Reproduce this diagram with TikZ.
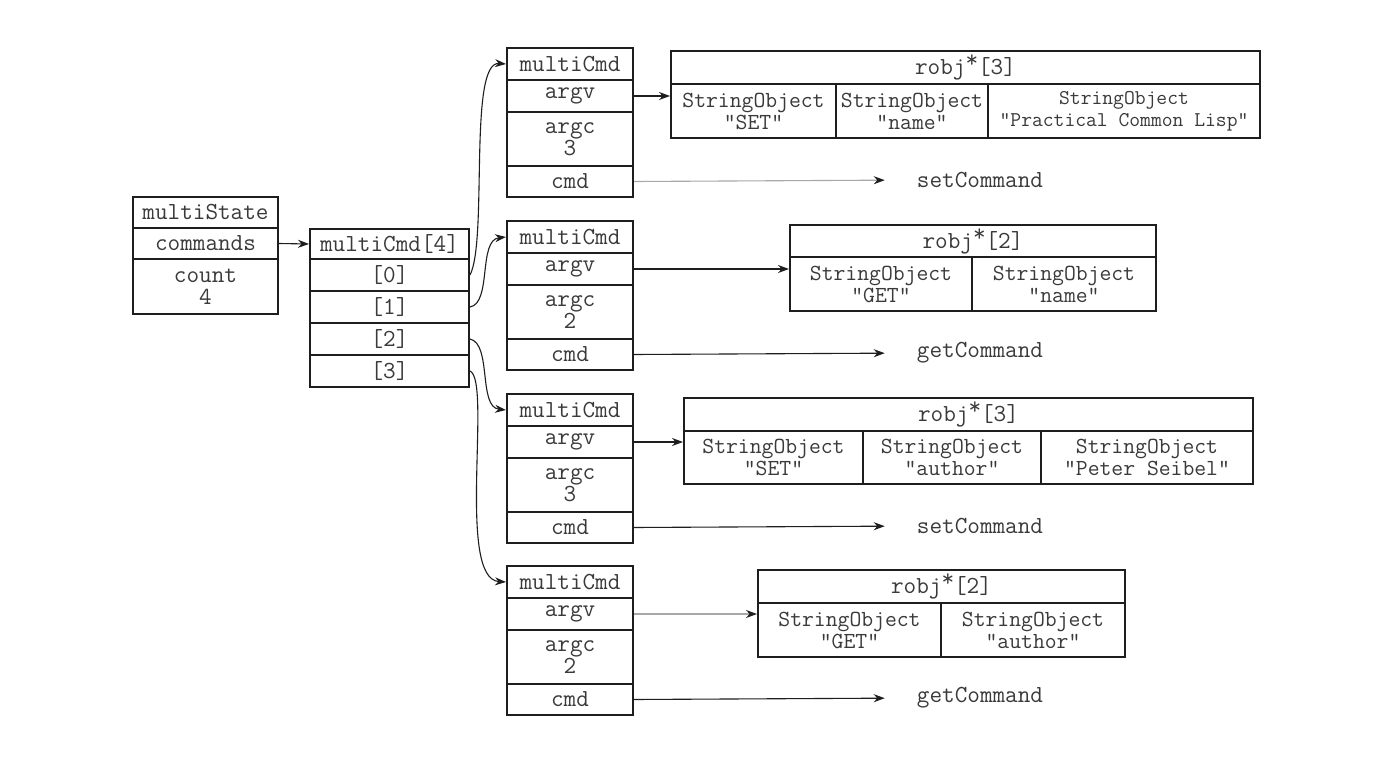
\documentclass[tikz,border=0pt]{standalone}
\usetikzlibrary{arrows.meta}
\definecolor{linec}{HTML}{1E1E1E}
\definecolor{txtc}{HTML}{3A3A3A}
\definecolor{fadec}{HTML}{A8A8A8}
\newcommand{\rstar}{\raisebox{0.28em}{*}}
\begin{document}
\begin{tikzpicture}[x=1pt,y=-1pt,
  cell/.style={draw=linec,line width=2pt,inner sep=0pt,anchor=north west,align=center,text=txtc,
    font=\ttfamily\fontsize{24.5pt}{20pt}\selectfont},
  scell/.style={cell,font=\ttfamily\fontsize{23pt}{22pt}\selectfont},
  lcell/.style={cell,font=\ttfamily\fontsize{21pt}{22pt}\selectfont},
  lbl/.style={inner sep=0pt,text=txtc,font=\ttfamily\fontsize{24.5pt}{22pt}\selectfont},
  arr/.style={draw=linec,line width=1.1pt,-{Stealth[length=11pt,width=8pt,color=linec]}},
  farr/.style={arr,draw=fadec}]
\useasboundingbox[fill=white] (0,0) rectangle (1389,775);

% multiState
\node[cell,minimum width=145pt,minimum height=31pt] (msh) at (132,196) {multiState};
\node[cell,minimum width=145pt,minimum height=31pt] (msc) at (132,227) {commands};
\node[cell,minimum width=145pt,minimum height=55pt,font=\ttfamily\fontsize{24.5pt}{22pt}\selectfont] (msn) at (132,258) {count\\4};

% multiCmd[4]
\node[cell,minimum width=159pt,minimum height=30pt] (mch) at (309,228) {multiCmd[4]};
\node[cell,minimum width=159pt,minimum height=32pt] (mc0) at (309,258) {[0]};
\node[cell,minimum width=159pt,minimum height=32pt] (mc1) at (309,290) {[1]};
\node[cell,minimum width=159pt,minimum height=32pt] (mc2) at (309,322) {[2]};
\node[cell,minimum width=159pt,minimum height=32pt] (mc3) at (309,354) {[3]};

\draw[arr] (msc.east) -- (mch.west);

% multiCmd blocks
\foreach \i/\T/\N/\F in {1/47/3/setCommand,2/220/2/getCommand,3/393/3/setCommand,4/565/2/getCommand}{
  \node[cell,minimum width=126pt,minimum height=32pt] (h\i) at (506,\T) {multiCmd};
  \node[cell,minimum width=126pt,minimum height=32pt] (argv\i) at (506,\T+32) {argv};
  \node[cell,minimum width=126pt,minimum height=54pt] (argc\i) at (506,\T+64) {argc\\\N};
  \node[cell,minimum width=126pt,minimum height=31pt] (cmd\i) at (506,\T+118) {cmd};
  \node[lbl] (fn\i) at (980,\T+133) {\F};
}

% robj boxes
\node[cell,minimum width=589pt,minimum height=33pt] (r1h) at (670,50) {robj\rstar[3]};
\node[scell,minimum width=165pt,minimum height=54pt] (r1a) at (670,83) {StringObject\\"SET"};
\node[scell,minimum width=152pt,minimum height=54pt] (r1b) at (835,83) {StringObject\\"name"};
\node[lcell,minimum width=272pt,minimum height=54pt] (r1c) at (987,83) {StringObject\\"Practical Common Lisp"};

\node[cell,minimum width=366pt,minimum height=32pt] (r2h) at (789,224) {robj\rstar[2]};
\node[scell,minimum width=182pt,minimum height=54pt] (r2a) at (789,256) {StringObject\\"GET"};
\node[scell,minimum width=184pt,minimum height=54pt] (r2b) at (971,256) {StringObject\\"name"};

\node[cell,minimum width=569pt,minimum height=33pt] (r3h) at (683,397) {robj\rstar[3]};
\node[scell,minimum width=179pt,minimum height=53pt] (r3a) at (683,430) {StringObject\\"SET"};
\node[scell,minimum width=178pt,minimum height=53pt] (r3b) at (862,430) {StringObject\\"author"};
\node[scell,minimum width=212pt,minimum height=53pt] (r3c) at (1040,430) {StringObject\\"Peter Seibel"};

\node[cell,minimum width=367pt,minimum height=33pt] (r4h) at (757,569) {robj\rstar[2]};
\node[scell,minimum width=183pt,minimum height=54pt] (r4a) at (757,602) {StringObject\\"GET"};
\node[scell,minimum width=184pt,minimum height=54pt] (r4b) at (940,602) {StringObject\\"author"};

% argv arrows
\draw[arr] (argv1.east) -- (argv1.east -| r1a.west);
\draw[arr] (argv2.east) -- (argv2.east -| r2a.west);
\draw[arr] (argv3.east) -- (argv3.east -| r3a.west);
\draw[farr] (argv4.east) -- (argv4.east -| r4a.west);

% cmd arrows
\draw[farr,shorten >=32pt] (cmd1.east) -- (fn1.west);
\draw[arr,shorten >=32pt] (cmd2.east) -- (fn2.west);
\draw[arr,shorten >=32pt] (cmd3.east) -- (fn3.west);
\draw[arr,shorten >=32pt] (cmd4.east) -- (fn4.west);

% curved pointers
\draw[arr] (mc0.east) .. controls +(18,-35) and +(-38,-3) .. (h1.west);
\draw[arr] (mc1.east) .. controls +(22,-4) and +(-28,3) .. (h2.west);
\draw[arr] (mc2.east) .. controls +(22,5) and +(-28,-3) .. (h3.west);
\draw[arr] (mc3.east) .. controls +(22,10) and +(-50,-3) .. (h4.west);
\end{tikzpicture}
\end{document}
